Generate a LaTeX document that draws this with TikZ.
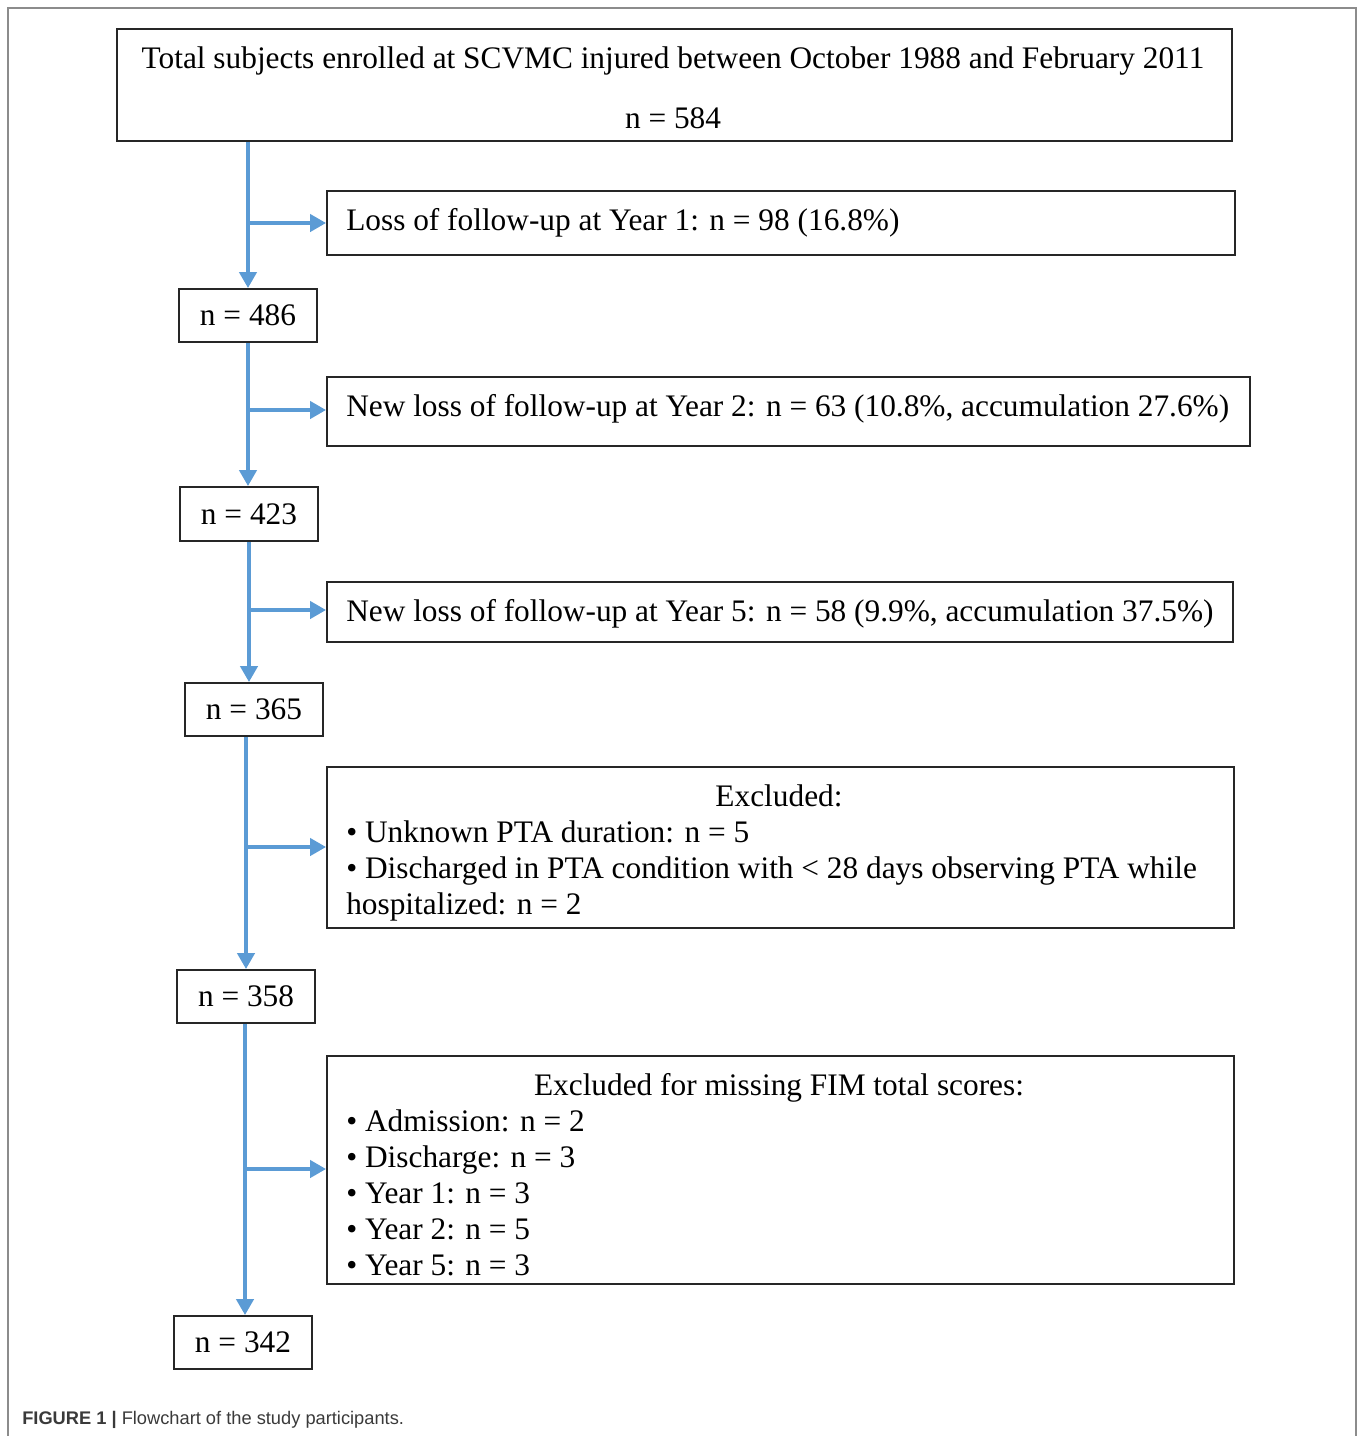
\documentclass[tikz,border=0pt]{standalone}
\usepackage{fontspec}
\setmainfont{Liberation Serif}
\setsansfont{Liberation Sans}
\usetikzlibrary{arrows.meta}
\definecolor{flowblue}{HTML}{5B9BD5}
\definecolor{framegray}{HTML}{8C8C8C}
\definecolor{captiongray}{HTML}{3A3A3A}
\begin{document}
\begin{tikzpicture}[x=0.75pt,y=-0.75pt,
  box/.style={draw=black!85, line width=1.5pt, inner sep=0pt, anchor=north west},
  txt/.style={inner sep=0pt, font=\fontsize{23.5}{27}\selectfont},
  conn/.style={draw=flowblue, line width=2.6pt},
  arr/.style={conn, -{Triangle[width=13pt,length=12pt]}}]
\useasboundingbox (0,0) rectangle (1358,1436);
\draw[framegray, line width=1.1pt] (8,1436) -- (8,8) -- (1356,8) -- (1356,1436);

% boxes
\node[box, minimum width=1115*0.75pt, minimum height=112*0.75pt] (total) at (116,28) {};
\node[box, minimum width=908*0.75pt, minimum height=64*0.75pt] (loss1) at (326,190) {};
\node[box, minimum width=923*0.75pt, minimum height=69*0.75pt] (loss2) at (326,376) {};
\node[box, minimum width=906*0.75pt, minimum height=60*0.75pt] (loss5) at (326,581) {};
\node[box, minimum width=907*0.75pt, minimum height=161*0.75pt] (excl) at (326,766) {};
\node[box, minimum width=907*0.75pt, minimum height=228*0.75pt] (fim) at (326,1055) {};

\node[box, minimum width=138*0.75pt, minimum height=53*0.75pt] (n486) at (178,288) {};
\node[box, minimum width=138*0.75pt, minimum height=54*0.75pt] (n423) at (179,486) {};
\node[box, minimum width=138*0.75pt, minimum height=53*0.75pt] (n365) at (184,682) {};
\node[box, minimum width=138*0.75pt, minimum height=53*0.75pt] (n358) at (176,969) {};
\node[box, minimum width=138*0.75pt, minimum height=53*0.75pt] (n342) at (173,1315) {};

% texts
\node[txt, anchor=base] (ttotal) at (673,68) {Total subjects enrolled at SCVMC injured between October 1988 and February 2011};
\node[txt, anchor=base] (ttotaln) at (673,128) {n = 584};
\node[txt, anchor=base west] (tloss1) at (346,230) {Loss of follow-up at Year 1: n = 98 (16.8\%)};
\node[txt, anchor=base west] (tloss2) at (346,416) {New loss of follow-up at Year 2: n = 63 (10.8\%, accumulation 27.6\%)};
\node[txt, anchor=base west] (tloss5) at (346,621) {New loss of follow-up at Year 5: n = 58 (9.9\%, accumulation 37.5\%)};

\node[txt, anchor=base] (texclh) at (779,806) {Excluded:};
\node[txt, anchor=base west] (texcl1) at (346,842) {• Unknown PTA duration: n = 5};
\node[txt, anchor=base west] (texcl2) at (346,878) {• Discharged in PTA condition with < 28 days observing PTA while};
\node[txt, anchor=base west] (texcl3) at (346,914) {hospitalized: n = 2};

\node[txt, anchor=base] (tfimh) at (779,1095) {Excluded for missing FIM total scores:};
\node[txt, anchor=base west] (tfim1) at (346,1131) {• Admission: n = 2};
\node[txt, anchor=base west] (tfim2) at (346,1167) {• Discharge: n = 3};
\node[txt, anchor=base west] (tfim3) at (346,1203) {• Year 1: n = 3};
\node[txt, anchor=base west] (tfim4) at (346,1239) {• Year 2: n = 5};
\node[txt, anchor=base west] (tfim5) at (346,1275) {• Year 5: n = 3};

\node[txt] at (n486) {n = 486};
\node[txt] at (n423) {n = 423};
\node[txt] at (n365) {n = 365};
\node[txt] at (n358) {n = 358};
\node[txt] at (n342) {n = 342};

% connectors
\coordinate (s1) at (247,223);
\coordinate (s2) at (247,410);
\coordinate (s3) at (247,610);
\coordinate (s4) at (246,847);
\coordinate (s5) at (245,1169);

\draw[arr] (total.south -| n486.north) -- (n486.north);
\draw[arr] (s1) -- (s1 -| loss1.west);
\draw[arr] (n486.south) -- (n486.south |- n423.north);
\draw[arr] (s2) -- (s2 -| loss2.west);
\draw[arr] (n423.south) -- (n423.south |- n365.north);
\draw[arr] (s3) -- (s3 -| loss5.west);
\draw[arr] (s4 |- n365.south) -- (s4 |- n358.north);
\draw[arr] (s4) -- (s4 -| excl.west);
\draw[arr] (s5 |- n358.south) -- (s5 |- n342.north);
\draw[arr] (s5) -- (s5 -| fim.west);

% caption
\node[inner sep=0pt, anchor=base west, font=\sffamily\fontsize{13.7}{16}\selectfont, text=captiongray] (cap) at (22,1424) {\textbf{FIGURE 1 |} Flowchart of the study participants.};
\end{tikzpicture}
\end{document}
